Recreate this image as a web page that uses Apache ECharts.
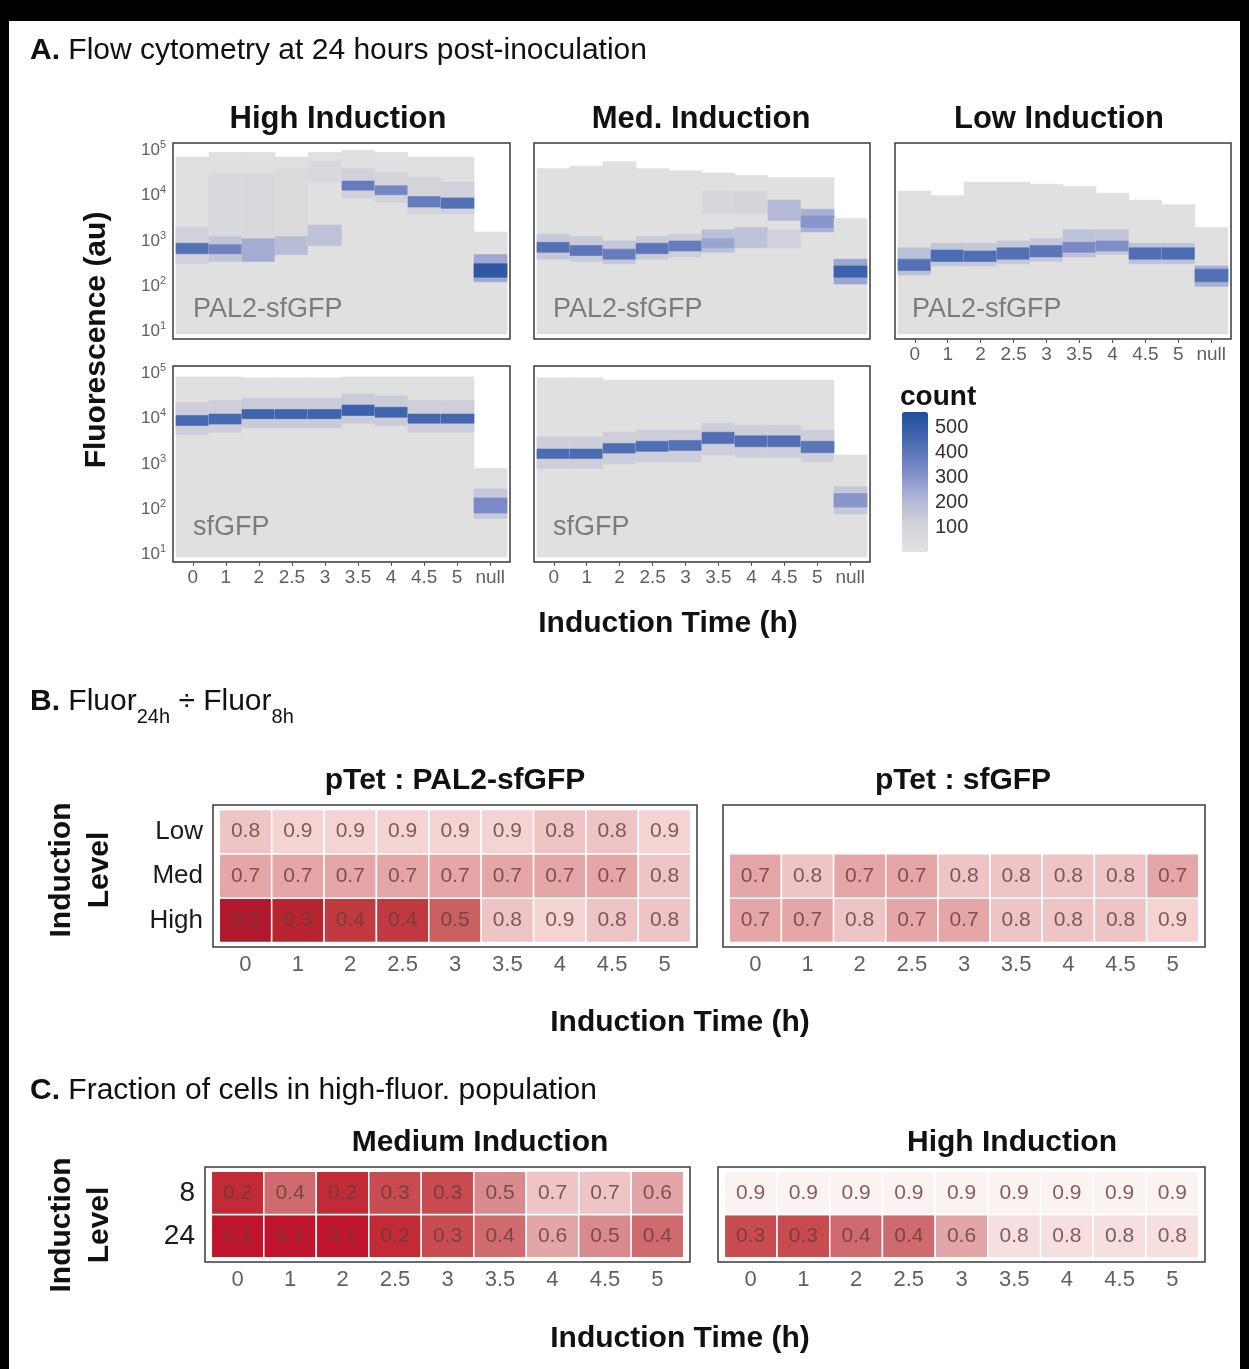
<!DOCTYPE html>
<html>
<head>
<meta charset="utf-8">
<script src="https://cdn.jsdelivr.net/npm/echarts@6/dist/echarts.min.js"></script>
<style>
html,body{margin:0;padding:0;background:#fff}
#chart{width:1249px;height:1369px}
</style>
</head>
<body>
<div id="chart"></div>
<script>
// ---------- Panel A: flow cytometry histograms (log10 fluorescence bands per induction time) ----------
const timeCats = ['0', '1', '2', '2.5', '3', '3.5', '4', '4.5', '5', 'null'];
const decadeTicks = [1, 2, 3, 4, 5];
const countTicks = [100, 200, 300, 400, 500];

// each column: list of [lowLog10, highLog10, count] bands, broad background first, mode last
const highPal2 = [
  [[0.95, 4.85, 18], [2.5, 3.3, 120], [2.72, 2.95, 420]],
  [[0.95, 4.95, 18], [3.0, 4.5, 60], [2.55, 3.1, 160], [2.72, 2.92, 360]],
  [[0.95, 4.95, 18], [3.05, 4.5, 70], [2.55, 3.05, 240]],
  [[0.95, 4.85, 18], [3.1, 4.6, 55], [2.7, 3.1, 190]],
  [[0.95, 4.95, 18], [4.3, 4.75, 70], [2.9, 3.35, 170]],
  [[0.95, 5.0, 18], [3.95, 4.6, 120], [4.12, 4.32, 380]],
  [[0.95, 4.95, 18], [3.85, 4.5, 110], [4.02, 4.22, 340]],
  [[0.95, 4.85, 18], [3.6, 4.4, 110], [3.75, 3.98, 380]],
  [[0.95, 4.85, 18], [3.6, 4.3, 120], [3.72, 3.95, 420]],
  [[0.95, 3.2, 18], [2.1, 2.7, 250], [2.2, 2.5, 520]]
];
const medPal2 = [
  [[0.95, 4.6, 18], [2.6, 3.15, 150], [2.75, 2.97, 420]],
  [[0.95, 4.65, 18], [2.55, 3.1, 140], [2.68, 2.9, 400]],
  [[0.95, 4.75, 18], [2.5, 3.0, 150], [2.6, 2.82, 380]],
  [[0.95, 4.6, 18], [2.6, 3.1, 140], [2.72, 2.95, 400]],
  [[0.95, 4.55, 18], [2.65, 3.15, 130], [2.78, 3.0, 380]],
  [[0.95, 4.5, 18], [3.6, 4.1, 90], [2.75, 3.25, 180], [2.85, 3.05, 260]],
  [[0.95, 4.45, 18], [3.6, 4.1, 100], [2.85, 3.3, 170]],
  [[0.95, 4.4, 18], [2.85, 3.25, 120], [3.45, 3.9, 200]],
  [[0.95, 4.4, 18], [3.2, 3.7, 230], [3.3, 3.55, 300]],
  [[0.95, 3.5, 18], [2.05, 2.6, 260], [2.2, 2.45, 480]]
];
const lowPal2 = [
  [[0.95, 4.1, 18], [2.25, 2.85, 180], [2.35, 2.6, 420]],
  [[0.95, 4.0, 18], [2.45, 2.95, 160], [2.55, 2.8, 440]],
  [[0.95, 4.3, 18], [2.45, 2.95, 150], [2.55, 2.78, 430]],
  [[0.95, 4.3, 18], [2.5, 3.0, 150], [2.6, 2.85, 420]],
  [[0.95, 4.25, 18], [2.55, 3.05, 150], [2.65, 2.9, 400]],
  [[0.95, 4.2, 18], [2.65, 3.25, 170], [2.75, 2.97, 330]],
  [[0.95, 4.05, 18], [2.7, 3.25, 160], [2.78, 3.0, 320]],
  [[0.95, 3.9, 18], [2.5, 2.95, 170], [2.6, 2.85, 430]],
  [[0.95, 3.8, 18], [2.5, 2.95, 170], [2.6, 2.85, 440]],
  [[0.95, 3.3, 18], [2.0, 2.45, 230], [2.1, 2.38, 420]]
];
const highSf = [
  [[0.95, 4.92, 18], [3.65, 4.35, 130], [3.85, 4.07, 450]],
  [[0.95, 4.92, 18], [3.7, 4.4, 130], [3.88, 4.1, 450]],
  [[0.95, 4.9, 18], [3.8, 4.45, 140], [4.0, 4.2, 470]],
  [[0.95, 4.9, 18], [3.8, 4.45, 140], [4.0, 4.2, 470]],
  [[0.95, 4.9, 18], [3.8, 4.45, 140], [4.0, 4.2, 470]],
  [[0.95, 4.92, 18], [3.9, 4.55, 140], [4.07, 4.3, 480]],
  [[0.95, 4.92, 18], [3.85, 4.5, 140], [4.03, 4.25, 470]],
  [[0.95, 4.92, 18], [3.7, 4.4, 130], [3.9, 4.1, 460]],
  [[0.95, 4.92, 18], [3.7, 4.4, 130], [3.9, 4.1, 460]],
  [[0.95, 2.9, 18], [1.8, 2.45, 150], [1.92, 2.25, 330]]
];
const medSf = [
  [[0.95, 4.9, 18], [2.9, 3.6, 130], [3.12, 3.33, 440]],
  [[0.95, 4.9, 18], [2.9, 3.6, 130], [3.12, 3.33, 440]],
  [[0.95, 4.85, 18], [3.0, 3.7, 130], [3.24, 3.45, 430]],
  [[0.95, 4.85, 18], [3.05, 3.75, 130], [3.28, 3.5, 430]],
  [[0.95, 4.85, 18], [3.05, 3.75, 130], [3.3, 3.52, 420]],
  [[0.95, 4.85, 18], [3.2, 3.9, 130], [3.45, 3.7, 430]],
  [[0.95, 4.85, 18], [3.15, 3.85, 130], [3.38, 3.62, 430]],
  [[0.95, 4.85, 18], [3.15, 3.85, 130], [3.38, 3.62, 430]],
  [[0.95, 4.85, 18], [3.05, 3.75, 130], [3.25, 3.5, 400]],
  [[0.95, 3.2, 18], [1.9, 2.5, 150], [2.05, 2.35, 300]]
];

// ---------- Panel B: Fluor24h / Fluor8h ratios ----------
const ratioTimes = ['0', '1', '2', '2.5', '3', '3.5', '4', '4.5', '5'];
const ratioLevels = ['High', 'Med', 'Low'];
const pal2Low = [0.8, 0.9, 0.9, 0.9, 0.9, 0.9, 0.8, 0.8, 0.9];
const pal2Med = [0.7, 0.7, 0.7, 0.7, 0.7, 0.7, 0.7, 0.7, 0.8];
const pal2High = [0.2, 0.3, 0.4, 0.4, 0.5, 0.8, 0.9, 0.8, 0.8];
const sfMed = [0.7, 0.8, 0.7, 0.7, 0.8, 0.8, 0.8, 0.8, 0.7];
const sfHigh = [0.7, 0.7, 0.8, 0.7, 0.7, 0.8, 0.8, 0.8, 0.9];

// ---------- Panel C: fraction of cells in high-fluorescence population ----------
const hourLevels = ['24', '8'];
const medInd8 = [0.2, 0.4, 0.2, 0.3, 0.3, 0.5, 0.7, 0.7, 0.6];
const medInd24 = [0.1, 0.1, 0.1, 0.2, 0.3, 0.4, 0.6, 0.5, 0.4];
const highInd8 = [0.9, 0.9, 0.9, 0.9, 0.9, 0.9, 0.9, 0.9, 0.9];
const highInd24 = [0.3, 0.3, 0.4, 0.4, 0.6, 0.8, 0.8, 0.8, 0.8];

const FONT = '"Liberation Sans", Arial, Helvetica, sans-serif';

function bandData(cols) {
  const out = [];
  cols.forEach((bands, i) => bands.forEach(b => out.push([i, b[0], b[1], b[2]])));
  return out;
}
function cellData(rows) {
  const out = [];
  rows.forEach((row, j) => row.forEach((v, i) => out.push([i, j, v])));
  return out;
}

function renderBand(params, api) {
  const i = api.value(0);
  const p0 = api.coord([i - 0.5, api.value(2)]);
  const p1 = api.coord([i + 0.5, api.value(1)]);
  const c = api.visual('color');
  return {
    type: 'rect',
    shape: { x: Math.round(p0[0]), y: p0[1], width: Math.round(p1[0]) - Math.round(p0[0]), height: p1[1] - p0[1] },
    style: { fill: c, stroke: c, lineWidth: 0.6 }
  };
}
function renderCell(params, api) {
  const i = api.value(0), j = api.value(1), v = api.value(2);
  const p0 = api.coord([i - 0.5, j + 0.5]);
  const p1 = api.coord([i + 0.5, j - 0.5]);
  return {
    type: 'group',
    children: [
      { type: 'rect',
        shape: { x: p0[0], y: p0[1], width: p1[0] - p0[0], height: p1[1] - p0[1] },
        style: { fill: api.visual('color'), stroke: '#ffffff', lineWidth: 1.5 } },
      { type: 'text', x: (p0[0] + p1[0]) / 2, y: (p0[1] + p1[1]) / 2,
        style: { text: v.toFixed(1), font: '21px ' + FONT, fill: 'rgba(105,60,62,0.82)',
                 align: 'center', verticalAlign: 'middle' } }
    ]
  };
}

// ---------- layout ----------
const flowGrids = [
  { left: 173, top: 143, width: 337, height: 196 },
  { left: 534, top: 143, width: 336, height: 196 },
  { left: 895, top: 143, width: 336, height: 196 },
  { left: 173, top: 366, width: 337, height: 196 },
  { left: 534, top: 366, width: 336, height: 196 }
];
const flowPanels = [highPal2, medPal2, lowPal2, highSf, medSf];
const flowShowX = [false, false, true, true, true];
const flowShowY = [true, false, false, true, false];

const boxStyle = { show: true, borderColor: '#3a3a3a', borderWidth: 1.5, backgroundColor: '#ffffff' };

const grids = [];
const xAxes = [];
const yAxes = [];
const series = [];

const tickLabel = { color: '#606060', fontFamily: FONT };

flowGrids.forEach((g, k) => {
  grids.push(Object.assign({}, g, boxStyle));
  xAxes.push({
    gridIndex: k, type: 'value', min: -0.6, max: 9.6,
    axisLine: { show: false }, splitLine: { show: false },
    axisTick: { show: flowShowX[k], length: 4, lineStyle: { color: '#555' }, customValues: [0,1,2,3,4,5,6,7,8,9] },
    axisLabel: Object.assign({ show: flowShowX[k], fontSize: 19, margin: 6,
      customValues: [0,1,2,3,4,5,6,7,8,9], formatter: v => timeCats[v] }, tickLabel)
  });
  yAxes.push({
    gridIndex: k, type: 'value', min: 0.84, max: 5.16,
    axisLine: { show: false }, splitLine: { show: false },
    axisTick: { show: false },
    axisLabel: Object.assign({ show: flowShowY[k], margin: 7, customValues: decadeTicks,
      formatter: v => '{b|10}{s|' + v + '}',
      rich: { b: { fontSize: 17, color: '#606060', fontFamily: FONT },
              s: { fontSize: 11, color: '#606060', fontFamily: FONT, padding: [0, 0, 11, 0] } } }, tickLabel)
  });
  series.push({
    type: 'custom', xAxisIndex: k, yAxisIndex: k, renderItem: renderBand,
    data: bandData(flowPanels[k]), silent: true
  });
});

// count colourbar labels (grid 5)
grids.push({ left: 928, top: 412, width: 1, height: 140, show: false });
xAxes.push({ gridIndex: 5, type: 'value', show: false });
yAxes.push({
  gridIndex: 5, type: 'value', min: 0, max: 560, position: 'right',
  axisLine: { show: false }, axisTick: { show: false }, splitLine: { show: false },
  axisLabel: { customValues: countTicks, fontSize: 20, color: '#333', fontFamily: FONT, margin: 6 }
});

// heatmap grids
const heatGrids = [
  { g: { left: 213, top: 805, width: 484, height: 142 }, rows: [pal2High, pal2Med, pal2Low], levels: ratioLevels, ymax: 2.6, showY: true },
  { g: { left: 723, top: 805, width: 482, height: 142 }, rows: [sfHigh, sfMed], levels: ratioLevels, ymax: 2.6, showY: false },
  { g: { left: 205, top: 1167, width: 485, height: 95 }, rows: [medInd24, medInd8], levels: hourLevels, ymax: 1.6, showY: true },
  { g: { left: 718, top: 1167, width: 487, height: 95 }, rows: [highInd24, highInd8], levels: hourLevels, ymax: 1.6, showY: false }
];
heatGrids.forEach((h, n) => {
  const k = 6 + n;
  const yTicks = h.levels.map((_, j) => j);
  grids.push(Object.assign({}, h.g, boxStyle));
  xAxes.push({
    gridIndex: k, type: 'value', min: -0.62, max: 8.62,
    axisLine: { show: false }, splitLine: { show: false },
    axisTick: { show: true, length: 4, lineStyle: { color: '#555' }, customValues: [0,1,2,3,4,5,6,7,8] },
    axisLabel: Object.assign({ fontSize: 22, margin: 7, customValues: [0,1,2,3,4,5,6,7,8],
      formatter: v => ratioTimes[v] }, tickLabel)
  });
  yAxes.push({
    gridIndex: k, type: 'value', min: -0.6, max: h.ymax,
    axisLine: { show: false }, splitLine: { show: false },
    axisTick: { show: false },
    axisLabel: { show: h.showY, customValues: yTicks, formatter: v => h.levels[v],
      fontSize: n < 2 ? 26 : 28, color: '#1a1a1a', fontFamily: FONT, margin: 10 }
  });
  series.push({
    type: 'custom', xAxisIndex: k, yAxisIndex: k, renderItem: renderCell,
    data: cellData(h.rows), silent: true
  });
});

// ---------- text ----------
const T = (x, y, text, size, opts) => Object.assign({
  type: 'text', x: x, y: y, z: 100,
  style: { text: text, font: (opts && opts.bold ? 'bold ' : '') + size + 'px ' + FONT,
           fill: (opts && opts.fill) || '#111', align: (opts && opts.align) || 'center', verticalAlign: 'middle' }
}, opts && opts.rot ? { rotation: Math.PI / 2 } : {});

const richTitle = (x, y, text, rich) => ({
  type: 'text', x: x, y: y, z: 100,
  style: { text: text, rich: rich, align: 'left', verticalAlign: 'middle', fill: '#111' }
});
const baseRich = {
  b: { font: 'bold 30px ' + FONT, fill: '#111' },
  n: { font: '30px ' + FONT, fill: '#111' },
  sub: { font: '20px ' + FONT, fill: '#111', padding: [30, 0, 0, 0] }
};

const graphics = [
  // frame
  { type: 'rect', z: 100, shape: { x: 0, y: 0, width: 1249, height: 21 }, style: { fill: '#000' } },
  { type: 'rect', z: 100, shape: { x: 0, y: 0, width: 9, height: 1369 }, style: { fill: '#000' } },
  { type: 'rect', z: 100, shape: { x: 1240, y: 0, width: 9, height: 1369 }, style: { fill: '#000' } },

  richTitle(30, 51, '{b|A.}{n| Flow cytometry at 24 hours post-inoculation}', baseRich),
  richTitle(30, 702, '{b|B.}{n| Fluor}{sub|24h}{n| ÷ Fluor}{sub|8h}', baseRich),
  richTitle(30, 1091, '{b|C.}{n| Fraction of cells in high-fluor. population}', baseRich),

  T(338, 119, 'High Induction', 31, { bold: true }),
  T(701, 119, 'Med. Induction', 31, { bold: true }),
  T(1059, 119, 'Low Induction', 31, { bold: true }),

  T(193, 310, 'PAL2-sfGFP', 27, { align: 'left', fill: '#7c7c7c' }),
  T(553, 310, 'PAL2-sfGFP', 27, { align: 'left', fill: '#7c7c7c' }),
  T(912, 310, 'PAL2-sfGFP', 27, { align: 'left', fill: '#7c7c7c' }),
  T(193, 528, 'sfGFP', 27, { align: 'left', fill: '#7c7c7c' }),
  T(553, 528, 'sfGFP', 27, { align: 'left', fill: '#7c7c7c' }),

  T(97, 340, 'Fluorescence (au)', 30, { bold: true, rot: true }),
  T(668, 624, 'Induction Time (h)', 30, { bold: true }),
  T(900, 397, 'count', 28, { bold: true, align: 'left' }),

  T(455, 781, 'pTet : PAL2-sfGFP', 30, { bold: true }),
  T(963, 781, 'pTet : sfGFP', 30, { bold: true }),
  { type: 'text', x: 81, y: 870, z: 100, rotation: Math.PI / 2,
    style: { text: 'Induction\nLevel', font: 'bold 30px ' + FONT, lineHeight: 38, fill: '#111',
             align: 'center', verticalAlign: 'middle' } },
  T(680, 1023, 'Induction Time (h)', 30, { bold: true }),

  T(480, 1143, 'Medium Induction', 30, { bold: true }),
  T(1012, 1143, 'High Induction', 30, { bold: true }),
  { type: 'text', x: 81, y: 1225, z: 100, rotation: Math.PI / 2,
    style: { text: 'Induction\nLevel', font: 'bold 30px ' + FONT, lineHeight: 38, fill: '#111',
             align: 'center', verticalAlign: 'middle' } },
  T(680, 1339, 'Induction Time (h)', 30, { bold: true })
];

const chart = echarts.init(document.getElementById('chart'), null, { renderer: 'canvas' });
chart.setOption({
  backgroundColor: '#ffffff',
  animation: false,
  grid: grids,
  xAxis: xAxes,
  yAxis: yAxes,
  visualMap: [
    { type: 'continuous', min: 0, max: 560, dimension: 3, seriesIndex: [0, 1, 2, 3, 4],
      show: true, calculable: false, left: 902, top: 412, itemWidth: 26, itemHeight: 140,
      padding: 0, text: null, showLabel: false, hoverLink: false,
      inRange: { color: ['#e2e2e2', '#d3d3da', '#abb2d6', '#7888c5', '#4869b1', '#1f4f9b'] } },
    { type: 'continuous', min: 0.2, max: 0.9, dimension: 2, seriesIndex: [5, 6], show: false,
      inRange: { color: ['#b2182b', '#b8242f', '#c03a40', '#c9605f', '#d88586', '#e5a6a8', '#efc4c4', '#f4d4d2'] } },
    { type: 'continuous', min: 0.1, max: 0.9, dimension: 2, seriesIndex: [7, 8], show: false,
      inRange: { color: ['#c0142c', '#c22a35', '#c84b50', '#cf6a6e', '#d88a8c', '#e3a6a8', '#eec4c6', '#f6dfdf', '#fbf3f2'] } }
  ],
  series: series,
  graphic: graphics
});
</script>
</body>
</html>
